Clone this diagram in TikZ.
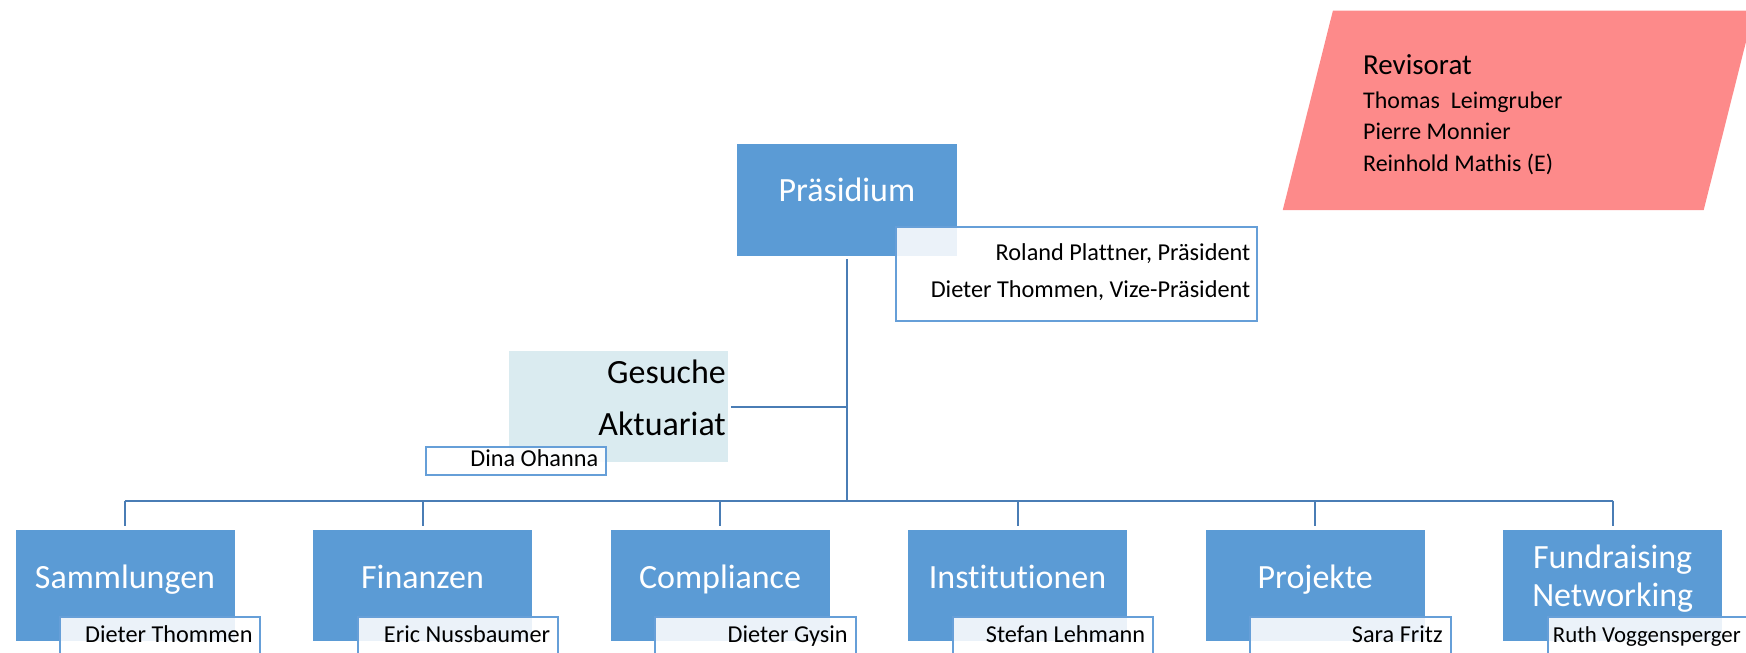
\documentclass[tikz,border=0pt]{standalone}
\usepackage{fontspec}
\setmainfont{Carlito}[Ligatures={NoCommon}]
\definecolor{accblue}{HTML}{5B9BD5}
\definecolor{lineblue}{HTML}{669FD8}
\definecolor{connblue}{HTML}{4A7DB5}
\definecolor{gesfill}{RGB}{218,235,240}
\definecolor{revfill}{HTML}{FD8A8A}
\tikzset{
  bluebox/.style={fill=accblue, draw=none, minimum width=196.5pt, minimum height=100.3pt, inner sep=0pt, anchor=north west},
  namebox/.style={fill=white, fill opacity=0.88, draw=lineblue, line width=1.8pt, inner sep=0pt, anchor=north west},
  bigtext/.style={font=\fontsize{30.5}{36}\selectfont, inner sep=0pt, anchor=base},
  whitetext/.style={bigtext, text=white},
  nametext/.style={font=\fontsize{21.8}{26}\selectfont, inner sep=0pt, anchor=base east},
  revtext/.style={font=\fontsize{21.5}{26}\selectfont, inner sep=0pt, anchor=base west},
  conn/.style={draw=connblue, line width=2pt},
}
\begin{document}
\begin{tikzpicture}[x=1pt,y=-1pt]
\useasboundingbox (0,0) rectangle (1568,586);
\clip (0,0) rectangle (1568,586);

% Revisorat
\fill[revfill] (1152,188.6) -- (1197,9.6) -- (1575,9.6) -- (1530,188.6) -- cycle;
\node[revtext, font=\fontsize{26}{30}\selectfont] (revT) at (1224,66.5) {Revisorat};
\node[revtext] (rev1) at (1224,97.3) {Thomas\ \ Leimgruber};
\node[revtext] (rev2) at (1224,125) {Pierre Monnier};
\node[revtext] (rev3) at (1224,154) {Reinhold Mathis (E)};

% Praesidium
\node[bluebox, minimum width=197pt, minimum height=101pt] (pres) at (662,129) {};
\node[whitetext] (presT) at (760.5,181) {Präsidium};
\node[namebox, minimum width=324pt, minimum height=84pt] (presN) at (804,203) {};
\node[nametext] (presN1) at (1123,234) {Roland Plattner, Präsident};
\node[nametext] (presN2) at (1123,267.3) {Dieter Thommen, Vize-Präsident};

% Gesuche
\node[fill=gesfill, inner sep=0pt, minimum width=197pt, minimum height=100pt, anchor=north west] (ges) at (457,315) {};
\node[bigtext, anchor=base east] (gesT1) at (652,344) {Gesuche};
\node[bigtext, anchor=base east] (gesT2) at (652,391) {Aktuariat};
\node[namebox, minimum width=161pt, minimum height=25.5pt] (gesN) at (382,400.5) {};
\node[nametext] (gesNT) at (537.5,419) {Dina Ohanna};

% bottom boxes
\node[bluebox] (sam) at (14,475.4) {};
\node[bluebox] (fin) at (281.2,475.4) {};
\node[bluebox] (com) at (548.4,475.4) {};
\node[bluebox] (ins) at (815.6,475.4) {};
\node[bluebox] (pro) at (1082.8,475.4) {};
\node[bluebox] (fun) at (1350,475.4) {};

\node[whitetext] (samT) at (112.25,528.4) {Sammlungen};
\node[whitetext] (finT) at (379.45,528.4) {Finanzen};
\node[whitetext] (comT) at (646.65,528.4) {Compliance};
\node[whitetext] (insT) at (913.85,528.4) {Institutionen};
\node[whitetext] (proT) at (1181.05,528.4) {Projekte};
\node[whitetext] (funT1) at (1448.25,510.4) {Fundraising};
\node[whitetext] (funT2) at (1448.25,544.8) {Networking};

\node[namebox, minimum width=180pt, minimum height=50pt] (samN) at (53,553.2) {};
\node[namebox, minimum width=180pt, minimum height=50pt] (finN) at (320.2,553.2) {};
\node[namebox, minimum width=180pt, minimum height=50pt] (comN) at (587.4,553.2) {};
\node[namebox, minimum width=180pt, minimum height=50pt] (insN) at (854.6,553.2) {};
\node[namebox, minimum width=180pt, minimum height=50pt] (proN) at (1121.8,553.2) {};
\node[namebox, minimum width=180pt, minimum height=50pt] (funN) at (1389,553.2) {};

\node[nametext] (samNT) at (227,577.2) {Dieter Thommen};
\node[nametext] (finNT) at (494.2,577.2) {Eric Nussbaumer};
\node[nametext] (comNT) at (761.4,577.2) {Dieter Gysin};
\node[nametext] (insNT) at (1028.6,577.2) {Stefan Lehmann};
\node[nametext] (proNT) at (1295.8,577.2) {Sara Fritz};
\node[nametext, font=\fontsize{20.5}{24}\selectfont] (funNT) at (1563.5,577.2) {Ruth Voggensperger};

% connectors
\coordinate (bus) at (760.5,449.6);
\draw[conn] ([yshift=-2pt]pres.south) -- (pres.south |- bus);
\draw[conn] ([xshift=2pt]ges.east) -- (ges.east -| pres.south);
\draw[conn] (sam.north |- bus) -- (fun.north |- bus);
\foreach \b in {sam,fin,com,ins,pro,fun}{
  \draw[conn] (\b.north |- bus) -- ([yshift=3pt]\b.north);
}
\end{tikzpicture}
\end{document}
